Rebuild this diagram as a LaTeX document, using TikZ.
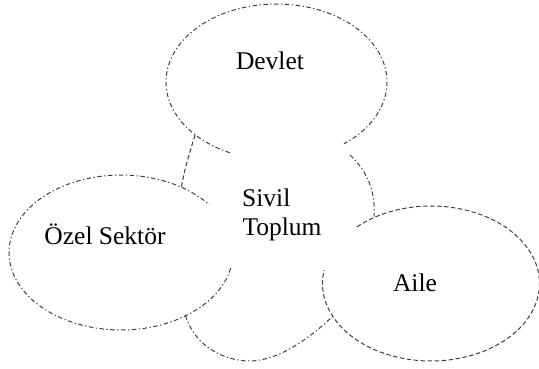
\documentclass[tikz,border=0pt]{standalone}
\usepackage{fontspec}
\setmainfont{Liberation Serif}
\begin{document}
\begin{tikzpicture}[x=1pt,y=-1pt,
  outline/.style={draw=black!75, line width=1pt, dash pattern=on 4.5pt off 2.5pt on 1.3pt off 2.5pt},
  dashline/.style={draw=black!75, line width=1pt, dash pattern=on 4.5pt off 2.5pt},
  txt/.style={font=\fontsize{25.5}{28.3}\selectfont, inner sep=0pt, text=black}]
\useasboundingbox (0,0) rectangle (539,369);
% Devlet ellipse
\draw[outline] plot[domain=115:412.4, samples=160, smooth] ({276.5+110.5*cos(\x)},{82+78*sin(\x)});
% Ozel Sektor ellipse
\draw[outline] plot[domain=11.7:322, samples=160, smooth] ({121+112*cos(\x)},{252.5+77.5*sin(\x)});
% Aile ellipse
\draw[dashline] plot[domain=227:550, samples=160, smooth] ({431+108.5*cos(\x)},{283.5+77.5*sin(\x)});
% junctions
\coordinate (j1) at (195,135);
\coordinate (j2) at (181.5,187.3);
\coordinate (j3) at (350,155);
\coordinate (j4) at (374,216.5);
\coordinate (j5) at (185.5,315.5);
\coordinate (jb) at (250,361);
\coordinate (j6) at (332.7,316.3);
% Sivil Toplum boundary arcs
\draw[dashline] (j1) .. controls (190,152) and (184,170) .. (j2);
\draw[outline] (j3) .. controls (366,170) and (376,190) .. (j4);
\draw[outline] (j5) .. controls (195,347) and (225,361) .. (jb) .. controls (278,361) and (310,338) .. (j6);
% texts
\node[txt, anchor=base] (devlet) at (270,69.3) {Devlet};
\node[txt, anchor=base west] (sivil) at (242,206.7) {Sivil};
\node[txt, anchor=base west] (toplum) at (242.3,235) {Toplum};
\node[txt, anchor=base] (ozel) at (105,244) {Özel Sektör};
\node[txt, anchor=base] (aile) at (415,291.7) {Aile};
\end{tikzpicture}
\end{document}
